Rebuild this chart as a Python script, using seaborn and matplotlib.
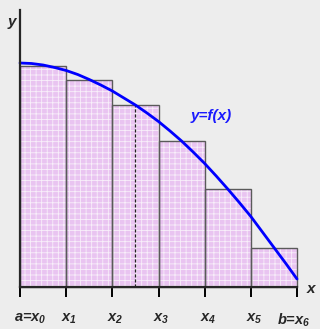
import numpy as np
import matplotlib
matplotlib.use("Agg")
import matplotlib.pyplot as plt
import matplotlib.transforms as mtransforms
import seaborn as sns

sns.set_style("white")
plt.rcParams["font.family"] = ["Liberation Sans", "DejaVu Sans"]
plt.rcParams["mathtext.fontset"] = "custom"
plt.rcParams["mathtext.it"] = "Liberation Sans:italic:bold"
plt.rcParams["mathtext.rm"] = "Liberation Sans:italic:bold"
plt.rcParams["mathtext.bf"] = "Liberation Sans:italic:bold"
plt.rcParams["hatch.linewidth"] = 0.6

# subinterval edges x0..x6 and midpoint heights (midpoint rule)
edges = [0, 1, 2, 3, 4, 5, 6]
mids = [0.5, 1.5, 2.5, 3.5, 4.5, 5.5]
heights = [221, 207, 182, 146, 98, 39]

# the curve y=f(x)
curve_x = [0, 0.25, 0.5, 0.75, 1, 1.25, 1.5, 1.75, 2, 2.25, 2.5, 2.75, 3,
           3.25, 3.5, 3.75, 4, 4.25, 4.5, 4.75, 5, 5.25, 5.5, 5.75, 6]
curve_y = [224, 223.5, 222, 219.5, 216.5, 212.5, 207.5, 202, 196, 189, 182,
           174, 165.5, 156, 146, 135, 123.5, 111, 98, 84.5, 70.5, 55, 39.5,
           24, 8]

tick_labels = ["a=$x_0$", "$x_1$", "$x_2$", "$x_3$", "$x_4$", "$x_5$", "b=$x_6$"]

bg = "#ededed"
fig = plt.figure(figsize=(3.2, 3.29), dpi=100, facecolor=bg)
ax = fig.add_axes([0, 0, 1, 1], facecolor=bg)

# filled bars with a light mesh
sns.barplot(x=mids, y=heights, native_scale=True, width=1, ax=ax,
            color="#e9c4f1", saturation=1, linewidth=0)
for p in ax.patches:
    p.set_hatch("+++")
    p.set_edgecolor("#f8effa")
    p.set_linewidth(0)
# bar outlines
ax.bar(mids, heights, width=1, facecolor="none", edgecolor="#5a5a5a",
       linewidth=1.0, zorder=3)

# dashed line at the midpoint of [x2, x3]
ax.plot([mids[2], mids[2]], [0, heights[2]], color="#222222", lw=0.9,
        ls=(0, (2.5, 1.5)), zorder=4)

sns.lineplot(x=curve_x, y=curve_y, color="#0000ff", lw=2.0, ax=ax, zorder=5)

ax.text(4.15, 171, "y=f(x)", color="#1a1aff", fontsize=11,
        fontweight="bold", fontstyle="italic", ha="center", va="center")

px = 46.17
ax.set_xlim(-20 / px, 300 / px)
ax.set_ylim(-42, 287)

for s in ["top", "right"]:
    ax.spines[s].set_visible(False)
for s in ["left", "bottom"]:
    ax.spines[s].set_position(("data", 0))
    ax.spines[s].set_linewidth(1.6)
    ax.spines[s].set_zorder(6)
ax.spines["left"].set_bounds(0, 277)
ax.spines["bottom"].set_bounds(0, 6)

ax.set_xticks(edges)
ax.set_xticklabels(tick_labels, fontsize=10.5, fontweight="bold",
                   fontstyle="italic")
ax.tick_params(axis="x", direction="out", length=7, width=1.4,
               color="black", pad=11, bottom=True)
# labels sit slightly right of their ticks, the first one more so
shifts = [10, 3, 3, 3, 3, 3, -3]
for lab, dx in zip(ax.get_xticklabels(), shifts):
    lab.set_transform(lab.get_transform() +
                      mtransforms.ScaledTranslation(dx / 100, 0, fig.dpi_scale_trans))
ax.set_yticks([])
ax.set_xlabel("")
ax.set_ylabel("")

ax.text(6.3, -2, "x", fontsize=11, fontweight="bold", fontstyle="italic",
        ha="center", va="center")
ax.text(-0.18, 265, "y", fontsize=11, fontweight="bold", fontstyle="italic",
        ha="center", va="center")

fig.savefig("out.png", dpi=100, facecolor=bg)
